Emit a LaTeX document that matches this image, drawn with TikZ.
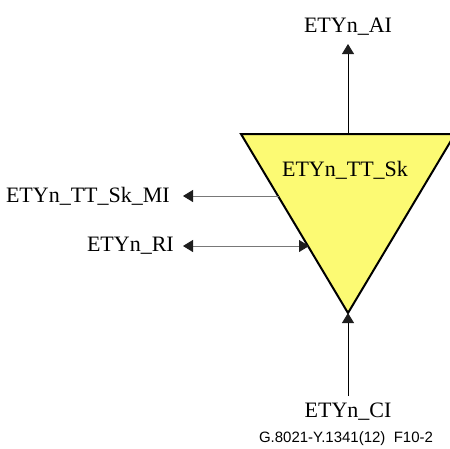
\documentclass[tikz,border=0pt]{standalone}
\usepackage{fontspec}
\setmainfont{Liberation Serif}
\setsansfont{Liberation Sans}
\usetikzlibrary{arrows.meta}
\definecolor{triyellow}{RGB}{252,250,115}
\definecolor{linegray}{RGB}{120,120,120}
\definecolor{headblack}{RGB}{30,30,30}
\tikzset{
  lbl/.style={font=\fontsize{22}{25}\selectfont, inner sep=0pt},
  tip/.tip={Triangle[length=10pt,width=12pt,fill=headblack,color=headblack]},
  conn/.style={line width=0.9pt, -tip},
  grayconn/.style={conn, draw=linegray},
}
\begin{document}
\begin{tikzpicture}[x=1pt,y=-1pt]
\useasboundingbox (0,0) rectangle (450,448);
% triangle
\coordinate (tl) at (241,134);
\coordinate (tr) at (455,134);
\coordinate (apex) at (348,313);
\begin{scope}
\clip (0,0) rectangle (450,448);
\draw[fill=triyellow, line width=2pt, line join=miter] (tl) -- (tr) -- (apex) -- cycle;
\end{scope}
\node[lbl] (tt) at (345,170) {ETYn\_TT\_Sk};
% AI
\coordinate (topmid) at (348,134);
\node[lbl] (ai) at (348,27) {ETYn\_AI};
\coordinate (aitip) at (348,44);
\draw[conn] (topmid) -- (aitip);
% CI
\node[lbl] (ci) at (348,412) {ETYn\_CI};
\coordinate (cistart) at (348,396);
\draw[conn] (cistart) -- (apex);
% MI
\node[lbl, anchor=east] (mi) at (170,196) {ETYn\_TT\_Sk\_MI};
\coordinate (miedge) at (278.5,196);
\coordinate (mitip) at (183,196);
\draw[grayconn] (miedge) -- (mitip);
% RI
\node[lbl, anchor=east] (ri) at (174,246) {ETYn\_RI};
\coordinate (rileft) at (183,246);
\coordinate (riright) at (309,246);
\draw[grayconn, tip-tip] (rileft) -- (riright);
% caption
\node[font=\sffamily\fontsize{15}{17}\selectfont, inner sep=0pt] (cap) at (346,439) {G.8021-Y.1341(12)\ \ F10-2};
\end{tikzpicture}
\end{document}
